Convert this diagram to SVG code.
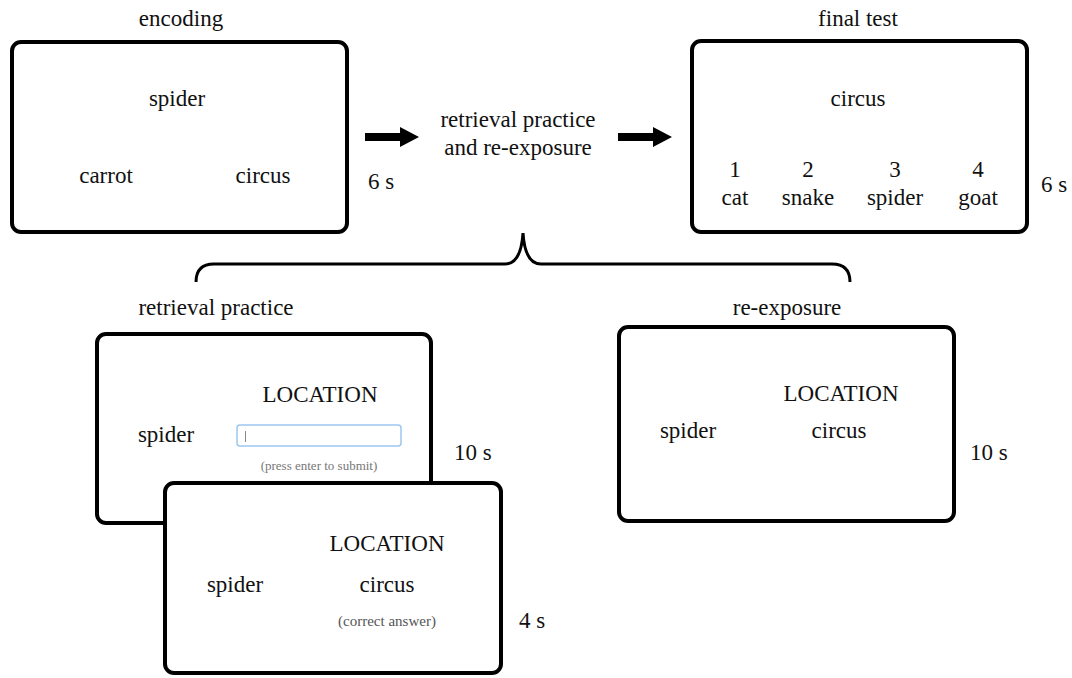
<svg xmlns="http://www.w3.org/2000/svg" width="1072" height="678" viewBox="0 0 1072 678" font-family="'Liberation Serif', 'Times New Roman', Times, serif">
<style>
  text { font-family: 'Liberation Serif', 'Times New Roman', Times, serif; fill: #111; }
  .t { font-size: 23px; text-anchor: middle; }
  .s { font-size: 23px; }
  .g { font-size: 13px; fill: #777; text-anchor: middle; }
  .g2 { font-size: 15px; fill: #555; text-anchor: middle; }
  .box { fill: #fff; stroke: #000; stroke-width: 4; }
  .brace { fill: none; stroke: #000; stroke-width: 3; }
</style>
<rect width="1072" height="678" fill="#fff"/>

<g id="encoding">
  <text class="t" x="181" y="26">encoding</text>
  <rect class="box" x="12" y="42" width="335" height="190" rx="9"/>
  <text class="t" x="177" y="106">spider</text>
  <text class="t" x="106" y="183">carrot</text>
  <text class="t" x="263" y="183">circus</text>
  <text class="s" x="368" y="189">6 s</text>
</g>

<g id="middle">
  <text class="t" x="518" y="127">retrieval practice</text>
  <text class="t" x="518" y="155">and re-exposure</text>
</g>

<g id="final-test">
  <text class="t" x="858" y="26">final test</text>
  <rect class="box" x="692" y="41" width="335" height="191" rx="9"/>
  <text class="t" x="858" y="106">circus</text>
  <text class="t" x="735" y="177">1</text>
  <text class="t" x="808" y="177">2</text>
  <text class="t" x="895" y="177">3</text>
  <text class="t" x="978" y="177">4</text>
  <text class="t" x="735" y="205">cat</text>
  <text class="t" x="808" y="205">snake</text>
  <text class="t" x="895" y="205">spider</text>
  <text class="t" x="978" y="205">goat</text>
  <text class="s" x="1041" y="192">6 s</text>
</g>

<g id="connectors">
  <path d="M365 133 H400 V127 L419 137 L400 147 V141 H365 Z" fill="#000"/>
  <path d="M618 133 H653 V127 L672 137 L653 147 V141 H618 Z" fill="#000"/>
  <path class="brace" d="M196 282 Q196 264 214 264 H505 Q521 264 523 233 Q525 264 541 264 H832 Q850 264 850 282"/>
</g>

<g id="retrieval-practice">
  <text class="t" x="216" y="315">retrieval practice</text>
  <rect class="box" x="97" y="334" width="334" height="189" rx="9"/>
  <text class="t" x="320" y="402">LOCATION</text>
  <text class="t" x="166" y="442">spider</text>
  <rect x="237" y="425" width="164" height="21" rx="3" fill="#fff" stroke="#9cc7ef" stroke-width="1.5"/>
  <line x1="245.5" y1="431" x2="245.5" y2="442" stroke="#888" stroke-width="1"/>
  <text class="g" x="319" y="470">(press enter to submit)</text>
  <text class="s" x="454" y="460">10 s</text>
</g>

<g id="correct-answer">
  <rect class="box" x="165" y="483" width="336" height="190" rx="9"/>
  <text class="t" x="387" y="551">LOCATION</text>
  <text class="t" x="235" y="592">spider</text>
  <text class="t" x="387" y="592">circus</text>
  <text class="g2" x="387" y="626">(correct answer)</text>
  <text class="s" x="519" y="628">4 s</text>
</g>

<g id="re-exposure">
  <text class="t" x="787" y="315">re-exposure</text>
  <rect class="box" x="619" y="327" width="335" height="194" rx="9"/>
  <text class="t" x="841" y="401">LOCATION</text>
  <text class="t" x="688" y="438">spider</text>
  <text class="t" x="839" y="438">circus</text>
  <text class="s" x="970" y="460">10 s</text>
</g>
</svg>
